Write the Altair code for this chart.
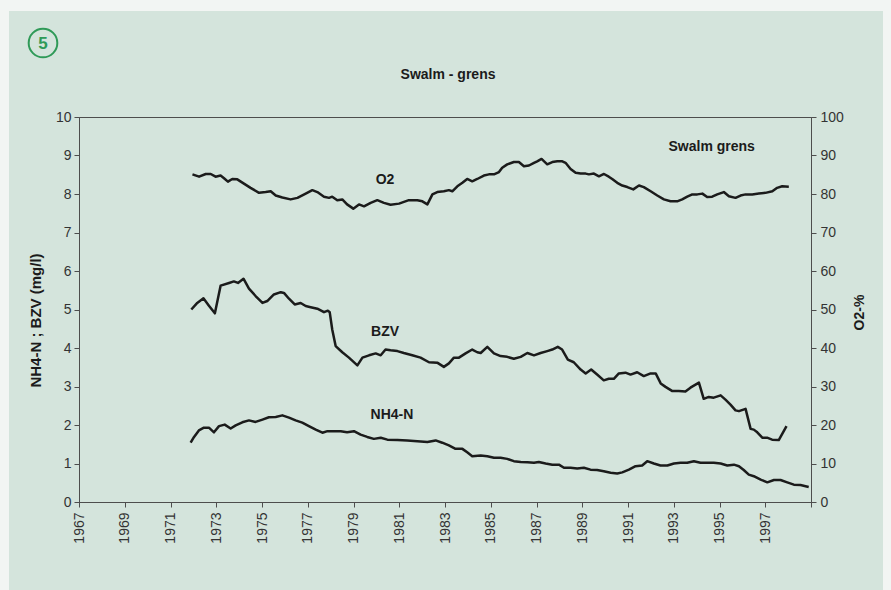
import altair as alt
import pandas as pd

# --- measured series -------------------------------------------------------
# O2 saturation (%), right axis
o2_year = [1971.96, 1972.25, 1972.54, 1972.76, 1972.97, 1973.19, 1973.34, 1973.51, 1973.70, 1973.92,
           1974.21, 1974.50, 1974.87, 1975.16, 1975.38, 1975.60, 1975.89, 1976.25, 1976.55, 1976.91,
           1977.20, 1977.42, 1977.71, 1977.93, 1978.07, 1978.29, 1978.51, 1978.72, 1978.99, 1979.24,
           1979.46, 1979.75, 1980.04, 1980.33, 1980.62, 1980.99, 1981.42, 1981.79, 1982.01, 1982.23,
           1982.45, 1982.66, 1982.95, 1983.17, 1983.32, 1983.54, 1983.76, 1983.97, 1984.19, 1984.41,
           1984.70, 1984.92, 1985.14, 1985.36, 1985.50, 1985.72, 1986.01, 1986.23, 1986.45, 1986.67,
           1986.89, 1987.03, 1987.22, 1987.47, 1987.69, 1987.91, 1988.13, 1988.27, 1988.49, 1988.71,
           1988.93, 1989.15, 1989.29, 1989.51, 1989.73, 1989.95, 1990.16, 1990.31, 1990.53, 1990.75,
           1990.97, 1991.23, 1991.48, 1991.69, 1991.99, 1992.28, 1992.57, 1992.86, 1993.15, 1993.37,
           1993.59, 1993.81, 1994.03, 1994.25, 1994.46, 1994.68, 1994.90, 1995.19, 1995.41, 1995.70,
           1995.92, 1996.14, 1996.43, 1996.72, 1997.01, 1997.31, 1997.52, 1997.74, 1998.03]
o2_pct = [85.1, 84.5, 85.2, 85.2, 84.5, 84.8, 84.1, 83.2, 83.9, 83.8,
          82.7, 81.6, 80.3, 80.5, 80.7, 79.6, 79.1, 78.6, 79.0, 80.1,
          81.0, 80.5, 79.3, 79.0, 79.3, 78.4, 78.6, 77.3, 76.2, 77.3,
          76.8, 77.7, 78.4, 77.7, 77.2, 77.5, 78.4, 78.4, 78.1, 77.3,
          79.9, 80.5, 80.7, 81.0, 80.7, 82.0, 82.9, 83.9, 83.3, 83.9,
          84.8, 85.1, 85.1, 85.7, 86.8, 87.7, 88.3, 88.3, 87.2, 87.4,
          88.1, 88.5, 89.1, 87.7, 88.3, 88.5, 88.5, 88.1, 86.5, 85.5,
          85.3, 85.3, 85.1, 85.3, 84.6, 85.2, 84.5, 83.9, 82.9, 82.2,
          81.8, 81.2, 82.2, 81.8, 80.7, 79.6, 78.6, 78.1, 78.1, 78.6,
          79.3, 79.9, 79.9, 80.1, 79.2, 79.3, 79.9, 80.5, 79.4, 79.0,
          79.6, 79.9, 79.9, 80.1, 80.3, 80.7, 81.6, 82.0, 81.9]

# BZV (mg/l), left axis
bzv_year = [1971.91, 1972.17, 1972.44, 1972.68, 1972.94, 1973.19, 1973.56, 1973.77, 1973.95, 1974.19,
            1974.43, 1974.72, 1975.02, 1975.23, 1975.52, 1975.82, 1975.96, 1976.18, 1976.43, 1976.69,
            1976.91, 1977.13, 1977.42, 1977.71, 1977.88, 1977.96, 1978.07, 1978.22, 1978.51, 1978.80,
            1979.17, 1979.39, 1979.68, 1979.97, 1980.19, 1980.40, 1980.62, 1980.92, 1981.20, 1981.57,
            1981.93, 1982.30, 1982.66, 1982.95, 1983.17, 1983.39, 1983.61, 1983.90, 1984.19, 1984.41,
            1984.56, 1984.85, 1985.14, 1985.43, 1985.72, 1986.01, 1986.31, 1986.60, 1986.89, 1987.18,
            1987.47, 1987.69, 1987.93, 1988.12, 1988.37, 1988.63, 1988.93, 1989.15, 1989.39, 1989.65,
            1989.94, 1990.16, 1990.38, 1990.60, 1990.89, 1991.11, 1991.40, 1991.69, 1991.99, 1992.21,
            1992.43, 1992.64, 1992.94, 1993.22, 1993.51, 1993.73, 1994.10, 1994.31, 1994.53, 1994.75,
            1995.05, 1995.26, 1995.48, 1995.70, 1995.85, 1996.14, 1996.36, 1996.50, 1996.65, 1996.87,
            1997.08, 1997.30, 1997.59, 1997.93]
bzv_val = [5.00, 5.17, 5.29, 5.10, 4.90, 5.62, 5.69, 5.73, 5.69, 5.80,
           5.54, 5.35, 5.17, 5.22, 5.39, 5.45, 5.43, 5.28, 5.13, 5.17,
           5.09, 5.06, 5.02, 4.93, 4.97, 4.93, 4.48, 4.05, 3.89, 3.75,
           3.55, 3.75, 3.81, 3.86, 3.81, 3.96, 3.94, 3.92, 3.87, 3.81,
           3.75, 3.63, 3.62, 3.51, 3.60, 3.75, 3.75, 3.86, 3.96, 3.89,
           3.87, 4.03, 3.86, 3.79, 3.77, 3.72, 3.77, 3.87, 3.81, 3.87,
           3.92, 3.96, 4.03, 3.96, 3.70, 3.63, 3.44, 3.34, 3.44, 3.31,
           3.16, 3.20, 3.20, 3.34, 3.36, 3.31, 3.37, 3.27, 3.34, 3.34,
           3.08, 2.99, 2.88, 2.88, 2.87, 2.97, 3.10, 2.68, 2.73, 2.71,
           2.77, 2.66, 2.53, 2.38, 2.36, 2.42, 1.90, 1.88, 1.81, 1.67,
           1.67, 1.62, 1.61, 1.97]

# NH4-N (mg/l), left axis
nh4_year = [1971.88, 1972.03, 1972.24, 1972.46, 1972.68, 1972.90, 1973.12, 1973.37, 1973.63, 1973.85,
            1974.14, 1974.43, 1974.72, 1975.02, 1975.30, 1975.60, 1975.89, 1976.18, 1976.47, 1976.76,
            1977.05, 1977.35, 1977.64, 1977.86, 1978.15, 1978.44, 1978.72, 1979.02, 1979.31, 1979.60,
            1979.89, 1980.19, 1980.48, 1980.92, 1981.35, 1981.79, 1982.23, 1982.59, 1982.88, 1983.17,
            1983.46, 1983.76, 1983.97, 1984.19, 1984.56, 1984.85, 1985.14, 1985.43, 1985.72, 1986.01,
            1986.31, 1986.60, 1986.89, 1987.10, 1987.40, 1987.69, 1987.98, 1988.20, 1988.49, 1988.78,
            1989.07, 1989.36, 1989.65, 1989.94, 1990.24, 1990.53, 1990.75, 1991.04, 1991.33, 1991.62,
            1991.84, 1992.13, 1992.42, 1992.72, 1993.01, 1993.30, 1993.59, 1993.88, 1994.17, 1994.46,
            1994.75, 1995.05, 1995.34, 1995.63, 1995.85, 1996.06, 1996.28, 1996.50, 1996.80, 1997.09,
            1997.38, 1997.67, 1997.96, 1998.25, 1998.54, 1998.90]
nh4_val = [1.54, 1.69, 1.86, 1.93, 1.93, 1.81, 1.97, 2.01, 1.91, 1.99,
           2.07, 2.12, 2.08, 2.14, 2.20, 2.21, 2.25, 2.19, 2.12, 2.06,
           1.97, 1.88, 1.80, 1.84, 1.84, 1.84, 1.81, 1.84, 1.75, 1.69,
           1.64, 1.67, 1.62, 1.61, 1.60, 1.58, 1.56, 1.60, 1.54, 1.47,
           1.38, 1.38, 1.29, 1.19, 1.21, 1.19, 1.15, 1.15, 1.12, 1.06,
           1.04, 1.03, 1.02, 1.04, 1.00, 0.97, 0.97, 0.89, 0.89, 0.87,
           0.89, 0.84, 0.83, 0.80, 0.76, 0.74, 0.77, 0.84, 0.93, 0.95,
           1.06, 1.00, 0.95, 0.95, 1.00, 1.02, 1.02, 1.06, 1.02, 1.02,
           1.02, 1.00, 0.95, 0.97, 0.93, 0.83, 0.71, 0.67, 0.58, 0.51,
           0.57, 0.57, 0.51, 0.45, 0.44, 0.39]

# in-plot series labels (year, mg/l position)
label_text = ["O2", "BZV", "NH4-N", "Swalm grens"]
label_year = [1980.38, 1980.38, 1980.68, 1994.66]
label_pos = [8.36, 4.42, 2.26, 9.21]

x_ticks = list(range(1967, 2000))
left_ticks = list(range(0, 11))
right_ticks = list(range(0, 101, 10))

# --- styling ---------------------------------------------------------------
W, H = 732, 385          # plot area
PAD_L, PAD_T = 79, 117   # plot origin on the page
FONT = "Liberation Sans"
INK = "#1b1b1b"
AXIS = "#4d4d4d"
PANEL = "#d4e4dc"
EDGE = "#f2f5f3"
BADGE = "#2f9a58"

mg = pd.concat([
    pd.DataFrame({"year": bzv_year, "value": bzv_val, "series": "BZV"}),
    pd.DataFrame({"year": nh4_year, "value": nh4_val, "series": "NH4-N"}),
])
o2 = pd.DataFrame({"year": o2_year, "pct": o2_pct})
labels = pd.DataFrame({"year": label_year, "value": label_pos, "text": label_text})
one = pd.DataFrame({"k": [0]})

x_enc = alt.X(
    "year:Q",
    scale=alt.Scale(domain=[1967, 1999], nice=False, zero=False),
    axis=alt.Axis(
        values=x_ticks,
        labelExpr="datum.value % 2 == 1 && datum.value < 1999 ? datum.value : ''",
        labelAngle=270, labelOverlap=False, labelFlush=False,
        labelFontSize=14, labelColor="#333", labelPadding=5, labelFont=FONT,
        tickSize=5, tickColor=AXIS, domainColor=AXIS, grid=False, title=None, zindex=1,
    ),
)

mg_lines = alt.Chart(mg).mark_line(color=INK, strokeWidth=2.5, strokeJoin="round").encode(
    x=x_enc,
    y=alt.Y(
        "value:Q",
        scale=alt.Scale(domain=[0, 10], nice=False),
        axis=alt.Axis(
            orient="left", values=left_ticks, grid=False,
            labelFontSize=14, labelColor="#333", labelPadding=3, labelFont=FONT, labelFlush=False,
            tickSize=5, tickColor=AXIS, domainColor=AXIS, zindex=1,
            title="NH4-N ; BZV (mg/l)", titleFont=FONT, titleFontSize=15, titleFontWeight="bold",
            titleColor=INK, titleAngle=270, titleX=-44, titleY=203,
            titleAlign="center", titleBaseline="middle",
        ),
    ),
    detail="series:N",
)

o2_line = alt.Chart(o2).mark_line(color=INK, strokeWidth=2.5, strokeJoin="round").encode(
    x=alt.X("year:Q"),
    y=alt.Y(
        "pct:Q",
        scale=alt.Scale(domain=[0, 100], nice=False),
        axis=alt.Axis(
            orient="right", values=right_ticks, grid=False,
            labelFontSize=14, labelColor="#333", labelPadding=4, labelFont=FONT, labelFlush=False,
            tickSize=5, tickColor=AXIS, domainColor=AXIS, zindex=1,
            title="O2-%", titleFont=FONT, titleFontSize=14, titleFontWeight="bold",
            titleColor=INK, titleAngle=270, titleX=48, titleY=195,
            titleAlign="center", titleBaseline="middle",
        ),
    ),
)

series_labels = alt.Chart(labels).mark_text(
    font=FONT, fontSize=14, fontWeight="bold", color=INK, align="center", baseline="middle"
).encode(
    x=alt.X("year:Q"),
    y=alt.Y("value:Q", scale=alt.Scale(domain=[0, 10], nice=False), axis=None),
    text="text:N",
)

# light paper edges around the tinted panel
edge_top = alt.Chart(one).mark_rect(color=EDGE).encode(
    x=alt.value(-PAD_L), x2=alt.value(W + 80), y=alt.value(-PAD_T), y2=alt.value(11 - PAD_T))
edge_left = alt.Chart(one).mark_rect(color=EDGE).encode(
    x=alt.value(-PAD_L), x2=alt.value(9 - PAD_L), y=alt.value(-PAD_T), y2=alt.value(H + 88))
edge_right = alt.Chart(one).mark_rect(color=EDGE).encode(
    x=alt.value(883 - PAD_L), x2=alt.value(W + 80), y=alt.value(-PAD_T), y2=alt.value(H + 88))

title = alt.Chart(one).mark_text(
    text="Swalm - grens", font=FONT, fontSize=14, fontWeight="bold", color=INK,
    align="center", baseline="middle"
).encode(x=alt.value(448 - PAD_L), y=alt.value(75 - PAD_T))

badge_ring = alt.Chart(one).mark_point(
    shape="circle", filled=False, size=820, color=BADGE, strokeWidth=2, opacity=1
).encode(x=alt.value(43 - PAD_L), y=alt.value(43 - PAD_T))
badge_num = alt.Chart(one).mark_text(
    text="5", font=FONT, fontSize=17, fontWeight="bold", color=BADGE,
    align="center", baseline="middle"
).encode(x=alt.value(43 - PAD_L), y=alt.value(44 - PAD_T))

chart = alt.layer(
    edge_top, edge_left, edge_right, title, badge_ring, badge_num,
    mg_lines, o2_line, series_labels,
).resolve_scale(
    y="independent"
).properties(
    width=W, height=H,
    autosize=alt.AutoSizeParams(type="none"),
    padding={"left": PAD_L, "top": PAD_T, "right": 891 - PAD_L - W, "bottom": 590 - PAD_T - H},
    background=PANEL,
).configure(
    font=FONT
).configure_view(
    stroke=AXIS, strokeWidth=1
)

chart.save("out.html", embed_options={"renderer": "svg", "actions": False})
